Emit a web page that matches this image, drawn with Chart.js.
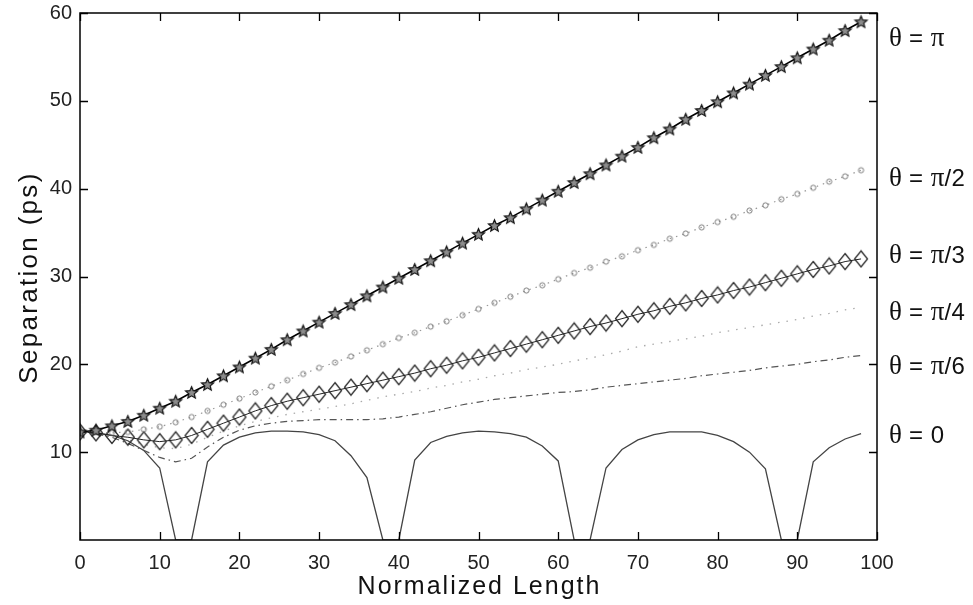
<!DOCTYPE html>
<html><head><meta charset="utf-8">
<script src="https://cdn.jsdelivr.net/npm/chart.js@4"></script>
<style>html,body{margin:0;padding:0;background:#fff}</style>
</head><body>
<canvas id="c" width="973" height="605"></canvas>
<script>
// ---- data ----
const xValues = [0,2,4,6,8,10,12,14,16,18,20,22,24,26,28,30,32,34,36,38,40,42,44,46,48,50,52,54,56,58,60,62,64,66,68,70,72,74,76,78,80,82,84,86,88,90,92,94,96,98];
const sepPi = [12.3,12.5,13.0,13.5,14.2,15.0,15.8,16.8,17.7,18.7,19.7,20.7,21.7,22.8,23.8,24.8,25.8,26.8,27.8,28.8,29.8,30.8,31.8,32.8,33.8,34.8,35.8,36.7,37.7,38.7,39.7,40.7,41.7,42.7,43.7,44.7,45.8,46.8,47.9,48.9,49.9,50.9,51.9,52.9,53.9,54.9,55.9,56.9,58.0,59.0];
const sepPi2 = [12.3,12.3,12.2,12.3,12.6,12.9,13.4,14.0,14.7,15.4,16.1,16.8,17.5,18.2,18.9,19.6,20.2,20.9,21.6,22.3,23.0,23.6,24.3,24.9,25.6,26.3,27.0,27.7,28.4,29.0,29.7,30.4,31.0,31.7,32.3,33.0,33.6,34.3,34.9,35.6,36.2,36.8,37.5,38.1,38.8,39.4,40.1,40.8,41.4,42.1];
const sepPi3 = [12.3,12.2,11.9,11.7,11.4,11.2,11.4,11.9,12.6,13.3,14.0,14.7,15.3,15.8,16.2,16.6,17.0,17.4,17.8,18.2,18.6,19.0,19.5,19.9,20.4,20.8,21.3,21.8,22.3,22.8,23.3,23.8,24.3,24.7,25.2,25.7,26.1,26.6,27.0,27.5,27.9,28.4,28.8,29.3,29.8,30.3,30.8,31.2,31.7,32.0];
const sepPi4 = [12.3,12.2,11.9,11.4,10.9,10.5,10.4,10.9,11.7,12.4,13.0,13.5,13.9,14.3,14.6,14.9,15.2,15.5,15.9,16.3,16.6,16.9,17.3,17.6,18.0,18.3,18.7,19.0,19.4,19.7,20.0,20.4,20.7,21.1,21.5,22.0,22.3,22.6,22.9,23.2,23.6,23.9,24.2,24.5,24.8,25.1,25.5,25.8,26.2,26.5];
const sepPi6 = [12.3,12.1,11.7,11.0,10.2,9.4,8.9,9.3,10.6,11.7,12.5,13.0,13.3,13.5,13.6,13.7,13.7,13.7,13.7,13.8,14.0,14.3,14.6,15.0,15.4,15.7,16.0,16.2,16.4,16.6,16.8,16.9,17.1,17.4,17.6,17.8,18.0,18.2,18.4,18.7,18.9,19.1,19.3,19.6,19.8,20.0,20.3,20.5,20.8,21.0];
const sepZero = [12.3,12.2,11.9,11.3,10.2,8.2,0,0,8.9,10.8,11.7,12.2,12.4,12.4,12.3,12.0,11.3,9.6,7.1,0,0,9.1,11.1,11.8,12.2,12.4,12.3,12.1,11.7,10.7,9.0,0,0,8.2,10.3,11.4,12.0,12.3,12.3,12.3,11.9,11.2,10.0,8.1,0,0,8.9,10.5,11.5,12.1];
const xTicks = [0,10,20,30,40,50,60,70,80,90,100];
const yTicks = [10,20,30,40,50,60];
const seriesNames = ['θ = π','θ = π/2','θ = π/3','θ = π/4','θ = π/6','θ = 0'];
const nameAnchors = [57.0,41.1,32.3,25.8,19.7,11.8];
const xTitle = 'Normalized Length';
const yTitle = 'Separation (ps)';

// ---- marker images ----
function makeStar(r){
  const s=Math.ceil(r*2+4); const c=document.createElement('canvas'); c.width=c.height=s;
  const g=c.getContext('2d'); g.translate(s/2,s/2+0.5);
  g.beginPath();
  for(let i=0;i<10;i++){const rr=i%2?r*0.45:r; const a=-Math.PI/2+i*Math.PI/5; g.lineTo(rr*Math.cos(a),rr*Math.sin(a));}
  g.closePath(); g.fillStyle='#8c8c8c'; g.fill(); g.strokeStyle='#111'; g.lineWidth=1.2; g.stroke();
  return c;
}
function makeDiamond(w,h){
  const c=document.createElement('canvas'); c.width=w+3; c.height=h+3;
  const g=c.getContext('2d'); const cx=(w+3)/2, cy=(h+3)/2;
  g.beginPath(); g.moveTo(cx,cy-h/2); g.lineTo(cx+w/2,cy); g.lineTo(cx,cy+h/2); g.lineTo(cx-w/2,cy); g.closePath();
  g.strokeStyle='#222'; g.lineWidth=1.2; g.stroke();
  return c;
}
function makeCircle(r){
  const s=Math.ceil(r*2+3); const c=document.createElement('canvas'); c.width=c.height=s;
  const g=c.getContext('2d'); g.beginPath(); g.arc(s/2,s/2,r,0,Math.PI*2);
  g.strokeStyle='#7a7a7a'; g.lineWidth=1; g.stroke(); return c;
}
const starImg=makeStar(6.3), diaImg=makeDiamond(13,16), circImg=makeCircle(2.6);

const pts = arr => xValues.map((x,i)=>({x:x,y:arr[i]}));
const SANS='"Liberation Sans", Arial, sans-serif';
const SERIF='"Liberation Serif", "Times New Roman", serif';

const frame = {
  id:'frame',
  afterDatasetsDraw(chart){
    const {ctx, chartArea:a, scales:{x,y}} = chart;
    ctx.save();
    ctx.strokeStyle='#000'; ctx.lineWidth=1.5;
    ctx.strokeRect(a.left,a.top,a.right-a.left,a.bottom-a.top);
    const L=8;
    ctx.beginPath();
    xTicks.forEach(v=>{const px=Math.round(x.getPixelForValue(v))+0.5;
      ctx.moveTo(px,a.bottom); ctx.lineTo(px,a.bottom-L);
      ctx.moveTo(px,a.top); ctx.lineTo(px,a.top+L);});
    yTicks.forEach(v=>{const py=Math.round(y.getPixelForValue(v))+0.5;
      ctx.moveTo(a.left,py); ctx.lineTo(a.left+L,py);
      ctx.moveTo(a.right,py); ctx.lineTo(a.right-L,py);});
    ctx.lineWidth=1.3; ctx.stroke();
    // series names on the right
    const size=24;
    ctx.fillStyle='#111'; ctx.textBaseline='middle'; ctx.textAlign='left';
    seriesNames.forEach((name,i)=>{
      let px=a.right+12; const py=y.getPixelForValue(nameAnchors[i]);
      for(const ch of name){
        const serif=(ch==='θ'||ch==='π');
        ctx.font=(serif? size+3 : size)+'px '+(serif?SERIF:SANS);
        ctx.fillText(ch,px,py);
        px+=ctx.measureText(ch).width+(serif?0:0.5);
      }
    });
    // axis titles
    ctx.fillStyle='#111';
    ctx.font='25px '+SANS;
    if('letterSpacing' in ctx) ctx.letterSpacing='2px';
    ctx.textAlign='center'; ctx.textBaseline='alphabetic';
    ctx.fillText(xTitle,(a.left+a.right)/2+1,594);
    ctx.save();
    ctx.translate(37,(a.top+a.bottom)/2+1);
    ctx.rotate(-Math.PI/2);
    ctx.font='26px '+SANS;
    if('letterSpacing' in ctx) ctx.letterSpacing='2.3px';
    ctx.fillText(yTitle,0,0);
    ctx.restore();
    ctx.restore();
  }
};

new Chart(document.getElementById('c'),{
  type:'line',
  data:{datasets:[
    {label:seriesNames[0],data:pts(sepPi),borderColor:'#000',borderWidth:1.6,pointStyle:starImg,pointRadius:6,tension:0},
    {label:seriesNames[1],data:pts(sepPi2),borderColor:'#999',borderWidth:1.2,borderDash:[1.5,5],pointStyle:circImg,pointRadius:3,tension:0},
    {label:seriesNames[2],data:pts(sepPi3),borderColor:'#222',borderWidth:1,pointStyle:diaImg,pointRadius:7,tension:0},
    {label:seriesNames[3],data:pts(sepPi4),borderColor:'#aaa',borderWidth:1.3,borderDash:[1.5,7],pointRadius:0,tension:0},
    {label:seriesNames[4],data:pts(sepPi6),borderColor:'#555',borderWidth:1.2,borderDash:[7,4,1.5,4],pointRadius:0,tension:0},
    {label:seriesNames[5],data:pts(sepZero),borderColor:'#444',borderWidth:1.3,pointRadius:0,tension:0}
  ]},
  options:{
    responsive:false, animation:false,
    layout:{padding:{top:13,right:96,left:0,bottom:0}},
    plugins:{legend:{display:false},tooltip:{enabled:false}},
    scales:{
      x:{type:'linear',min:0,max:100,
        afterBuildTicks:s=>{s.ticks=xTicks.map(v=>({value:v}));},
        afterFit:s=>{s.height=65;},
        grid:{display:false,drawTicks:true,tickLength:11},border:{display:false},
        ticks:{padding:0,color:'#222',font:{family:SANS,size:20},maxRotation:0}},
      y:{min:0,max:60,
        afterBuildTicks:s=>{s.ticks=yTicks.map(v=>({value:v}));},
        afterFit:s=>{s.width=80;},
        grid:{display:false,drawTicks:true,tickLength:8},border:{display:false},
        ticks:{padding:0,color:'#222',font:{family:SANS,size:20}}}
    }
  },
  plugins:[frame]
});
</script>
</body></html>
